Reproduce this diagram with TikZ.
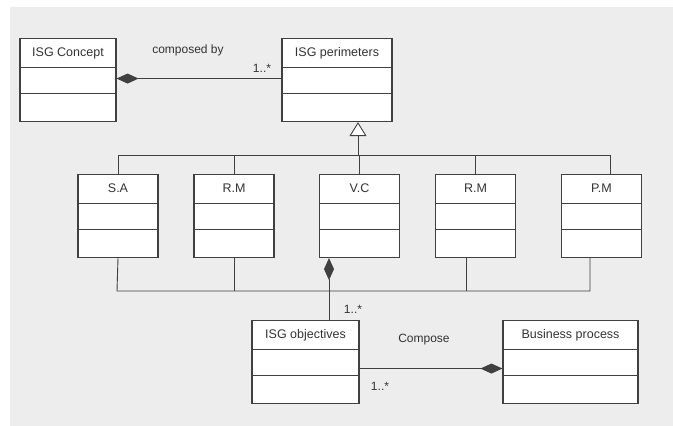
\documentclass[tikz,border=0pt]{standalone}
\usepackage{fontspec}
\setmainfont{Liberation Sans}
\usetikzlibrary{arrows.meta,positioning}

\tikzset{
  classbox/.style={draw=black!75, fill=white, line width=1.1pt, anchor=north,
    minimum width=#1, minimum height=83pt, inner sep=0pt,
    text height=18pt, text depth=65pt, text=black!80,
    font=\fontsize{12.5}{15}\selectfont,
    path picture={
      \draw[black!75, line width=1pt]
        ([yshift=-29pt]path picture bounding box.north west) -- ([yshift=-29pt]path picture bounding box.north east)
        ([yshift=-55pt]path picture bounding box.north west) -- ([yshift=-55pt]path picture bounding box.north east);
    }},
  link/.style={draw=black!75, line width=0.9pt},
  comp/.style={link, -{Diamond[length=22pt,width=10pt]}},
  gen/.style={link, -{Triangle[open,length=14pt,width=17pt,fill=white]}},
  tag/.style={text=black!80, font=\fontsize{12}{14}\selectfont, inner sep=1pt}
}

\begin{document}
\begin{tikzpicture}[x=1pt,y=-1pt]

%background
\useasboundingbox (0,0) rectangle (673,426);
\fill[black!7] (10,7) rectangle (673,426);

%top row of classes
\node[classbox=96pt] (concept) at (68,38) {ISG Concept};
\node[classbox=110pt] (perim) at (337,38) {ISG perimeters};

%middle row of classes
\foreach \name/\x/\txt in {sa/118/S.A, rm1/234/R.M, vc/359.5/V.C, rm2/475.5/R.M, pm/601.5/P.M}
    \node[classbox=80pt] (\name) at (\x,174) {\txt};

%bottom row of classes
\node[classbox=107pt] (obj) at (305.5,320) {ISG objectives};
\node[classbox=135pt] (bp) at (570.5,320) {Business process};

%composed by
\draw[comp] ([yshift=1.5pt]perim.west) -- ([yshift=1.5pt]concept.east);
\node[tag] (composedby) at (188,50) {composed by};
\node[tag] (mult1) at (262,68) {1..*};

%generalisation tree
\coordinate (topbus) at (358,155);
\draw[gen] (topbus) -- (topbus |- perim.south);
\draw[link] (sa.north) |- ([xshift=8.5pt]pm.north |- topbus) -- ([xshift=8.5pt]pm.north);
\draw[link] (rm1.north) -- (rm1.north |- topbus);
\draw[link] (vc.north) -- (vc.north |- topbus);
\draw[link] (rm2.north) -- (rm2.north |- topbus);

%lower bus
\coordinate (lowbus) at (117,291);
\draw[link] (sa.south) -- (lowbus) -- ([xshift=-11.5pt]pm.south |- lowbus) -- ([xshift=-11.5pt]pm.south);
\draw[link] (rm1.south) -- (rm1.south |- lowbus);
\draw[link] ([xshift=-9.5pt]rm2.south) -- ([xshift=-9.5pt]rm2.south |- lowbus);

%objectives to V.C
\draw[comp] ([xshift=23.5pt]obj.north) -- ([xshift=23.5pt]obj.north |- vc.south);
\node[tag] (mult2) at (353,309) {1..*};

%compose
\draw[comp] ([yshift=-6.5pt]obj.east) -- ([yshift=-6.5pt]bp.west);
\node[tag] (compose) at (424,340) {Compose};
\node[tag] (mult3) at (380,386) {1..*};

\end{tikzpicture}
\end{document}
